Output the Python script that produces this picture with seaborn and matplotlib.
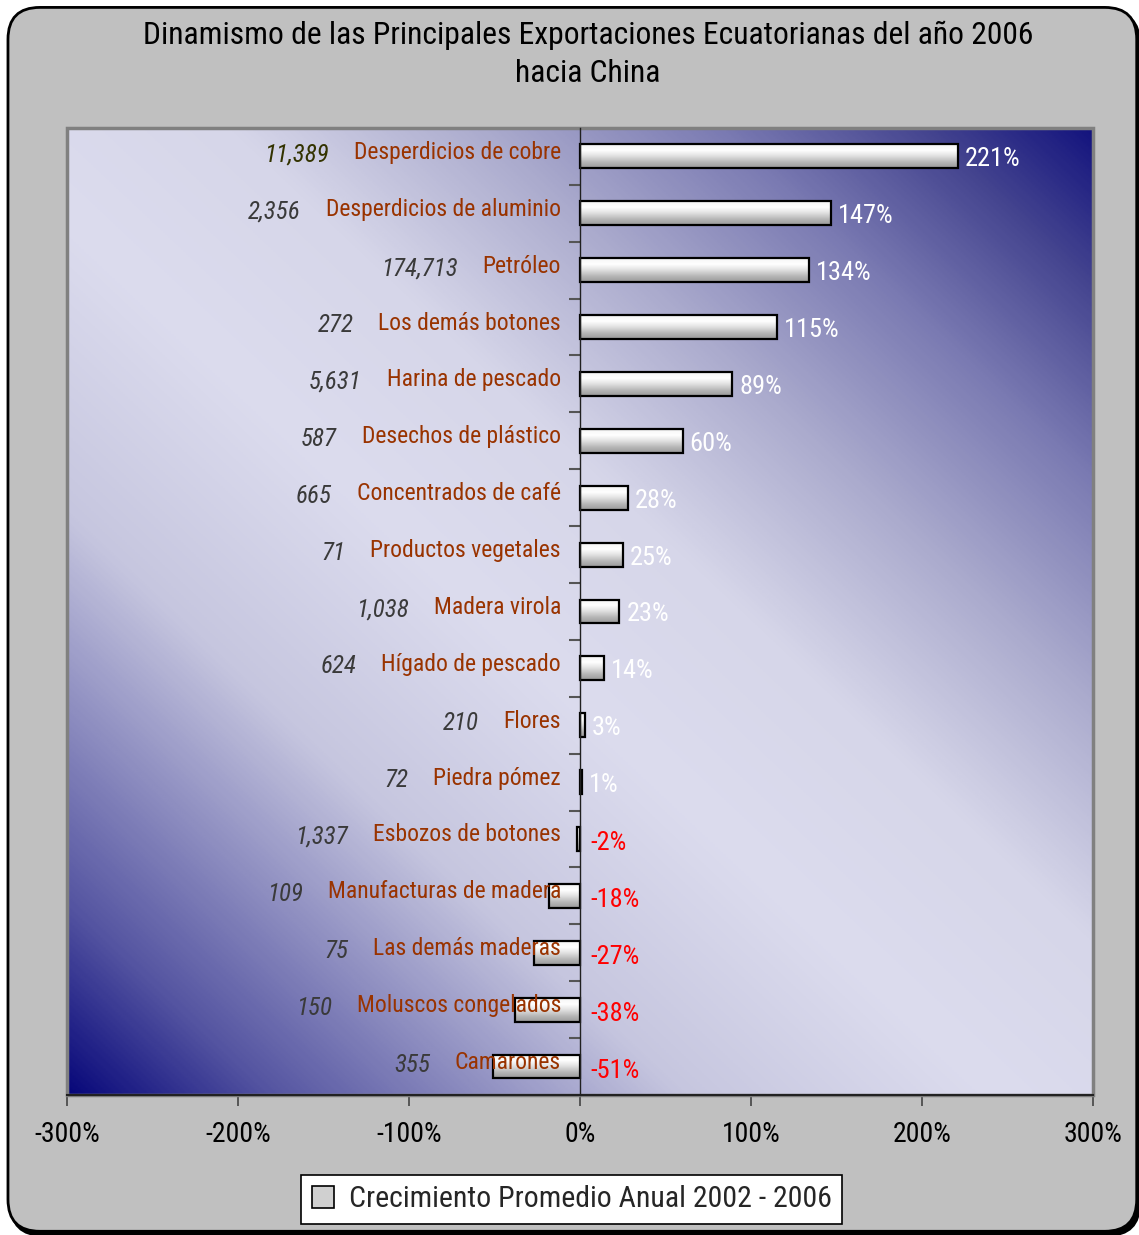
import matplotlib
matplotlib.use("Agg")
import matplotlib.pyplot as plt
import numpy as np
import seaborn as sns
from matplotlib.colors import LinearSegmentedColormap
from matplotlib.patches import FancyBboxPatch, Patch, Rectangle

# Data
productos = [
    "Desperdicios de cobre",
    "Desperdicios de aluminio",
    "Petróleo",
    "Los demás botones",
    "Harina de pescado",
    "Desechos de plástico",
    "Concentrados de café",
    "Productos vegetales",
    "Madera virola",
    "Hígado de pescado",
    "Flores",
    "Piedra pómez",
    "Esbozos de botones",
    "Manufacturas de madera",
    "Las demás maderas",
    "Moluscos congelados",
    "Camarones",
]
crecimiento = [221, 147, 134, 115, 89, 60, 28, 25, 23, 14, 3, 1, -2, -18, -27, -38, -51]
exportaciones = [
    "11,389", "2,356", "174,713", "272", "5,631", "587", "665", "71", "1,038",
    "624", "210", "72", "1,337", "109", "75", "150", "355",
]
xticks = [-300, -200, -100, 0, 100, 200, 300]

sns.set_theme(style="white")
plt.rcParams["font.family"] = ["Roboto Condensed", "DejaVu Sans"]

fig = plt.figure(figsize=(11.39, 12.35), dpi=100, facecolor="white")

# Rounded grey background with a small shadow
for off, fc, ec in [(0.0025, "black", "black"), (0.0, "#c0c0c0", "black")]:
    fig.patches.append(FancyBboxPatch(
        (0.007 + off, 0.003 - off * 1.3), 0.991, 0.991,
        boxstyle="round,pad=0,rounding_size=0.028",
        mutation_aspect=1139 / 1235,
        transform=fig.transFigure, facecolor=fc, edgecolor=ec,
        linewidth=2, zorder=-5,
    ))

ax = fig.add_axes([0.0588, 0.1134, 0.9008, 0.783])
ax.set_facecolor("none")

# Diagonal gradient background
n = 400
gx, gy = np.meshgrid(np.linspace(0, 1, n), np.linspace(1, 0, n))
t = (gx + gy) / 2
cmap_bg = LinearSegmentedColormap.from_list(
    "bg",
    [(0.0, "#08087a"), (0.1, "#5656a2"), (0.3, "#c6c6df"), (0.45, "#dcdcee"),
     (0.58, "#d6d6e9"), (0.7, "#acacce"), (0.82, "#7a7ab2"), (0.92, "#44448f"),
     (1.0, "#14147e")],
)
ax.imshow(t, extent=[0, 1, 0, 1], transform=ax.transAxes, cmap=cmap_bg,
          aspect="auto", zorder=0, interpolation="bilinear")

sns.barplot(x=crecimiento, y=productos, orient="h", color="#d8d8d8",
            edgecolor="black", linewidth=1.6, width=0.42, ax=ax, zorder=3)

# gradient fill inside each bar
cmap_bar = LinearSegmentedColormap.from_list(
    "bar", ["#f4f4f4", "#ffffff", "#e0e0e0", "#b8b8b8", "#9a9a9a"])
grad = np.linspace(0, 1, 50).reshape(-1, 1)
for p in list(ax.patches):
    x0, y0, w, h = p.get_x(), p.get_y(), p.get_width(), p.get_height()
    ax.imshow(grad, extent=[x0, x0 + w, y0 + h, y0], origin="upper",
              cmap=cmap_bar, aspect="auto", zorder=2.5, clip_on=True)
    p.set_facecolor("none")

ax.set_xlim(-300, 300)
ax.set_ylim(len(productos) - 0.5, -0.5)
ax.set_xlabel("")
ax.set_ylabel("")

# axis styling
ax.spines["left"].set_position(("data", 0))
ax.spines["left"].set_color("#202020")
ax.spines["left"].set_linewidth(1.0)
ax.spines["left"].set_zorder(4)
ax.spines["top"].set_visible(False)
ax.spines["right"].set_visible(False)
ax.spines["bottom"].set_color("#222222")
ax.spines["bottom"].set_linewidth(1.5)
ax.set_yticks(np.arange(0.5, len(productos) - 1, 1))
ax.set_yticklabels([])
ax.tick_params(axis="y", left=True, direction="out", length=8, width=1.5,
               color="#555555")
ax.set_xticks(xticks)
ax.set_xticklabels([f"{v}%" for v in xticks])
ax.tick_params(axis="x", bottom=True, direction="out", length=8, width=1.2,
               color="#444444", labelsize=20, pad=11, labelcolor="black")

ax.add_patch(Rectangle((0, 0), 1, 1, transform=ax.transAxes, fill=False,
                       edgecolor="#808080", linewidth=2.5, clip_on=False,
                       zorder=1))

# labels
for i, (nombre, val, exp) in enumerate(zip(productos, crecimiento, exportaciones)):
    lab = ax.annotate(nombre, xy=(0, i), xytext=(-19, 4),
                      textcoords="offset pixels", ha="right", va="center",
                      fontsize=17, color="#993300", zorder=6)
    ax.annotate(exp, xy=(0, 0.5), xycoords=lab, xytext=(-25, -2),
                textcoords="offset pixels", ha="right", va="center",
                fontsize=18, style="italic",
                color="#333300" if i == 0 else "#3a3a3a", zorder=6)
    if val >= 0:
        ax.annotate(f"{val}%", xy=(val, i), xytext=(7, -3),
                    textcoords="offset pixels", ha="left", va="center",
                    fontsize=19, color="white", zorder=6)
    else:
        ax.annotate(f"{val}%", xy=(0, i), xytext=(10, -4),
                    textcoords="offset pixels", ha="left", va="center",
                    fontsize=19, color="#ff0000", zorder=6)

fig.text(0.516, 0.956,
         "Dinamismo de las Principales Exportaciones Ecuatorianas del año 2006\nhacia China",
         ha="center", va="center", fontsize=22.8, color="black", linespacing=1.4)

leg = fig.legend(
    handles=[Patch(facecolor="#d0d0d0", edgecolor="black", linewidth=1.2)],
    labels=["Crecimiento Promedio Anual 2002 - 2006"],
    loc="center", bbox_to_anchor=(0.502, 0.029), fontsize=21.5, frameon=True,
    fancybox=False, edgecolor="black", framealpha=1, handlelength=0.75,
    handleheight=0.75, handletextpad=0.5, borderpad=0.35,
)
leg.get_frame().set_linewidth(1.2)

fig.savefig("out.png", dpi=100, facecolor=fig.get_facecolor())
